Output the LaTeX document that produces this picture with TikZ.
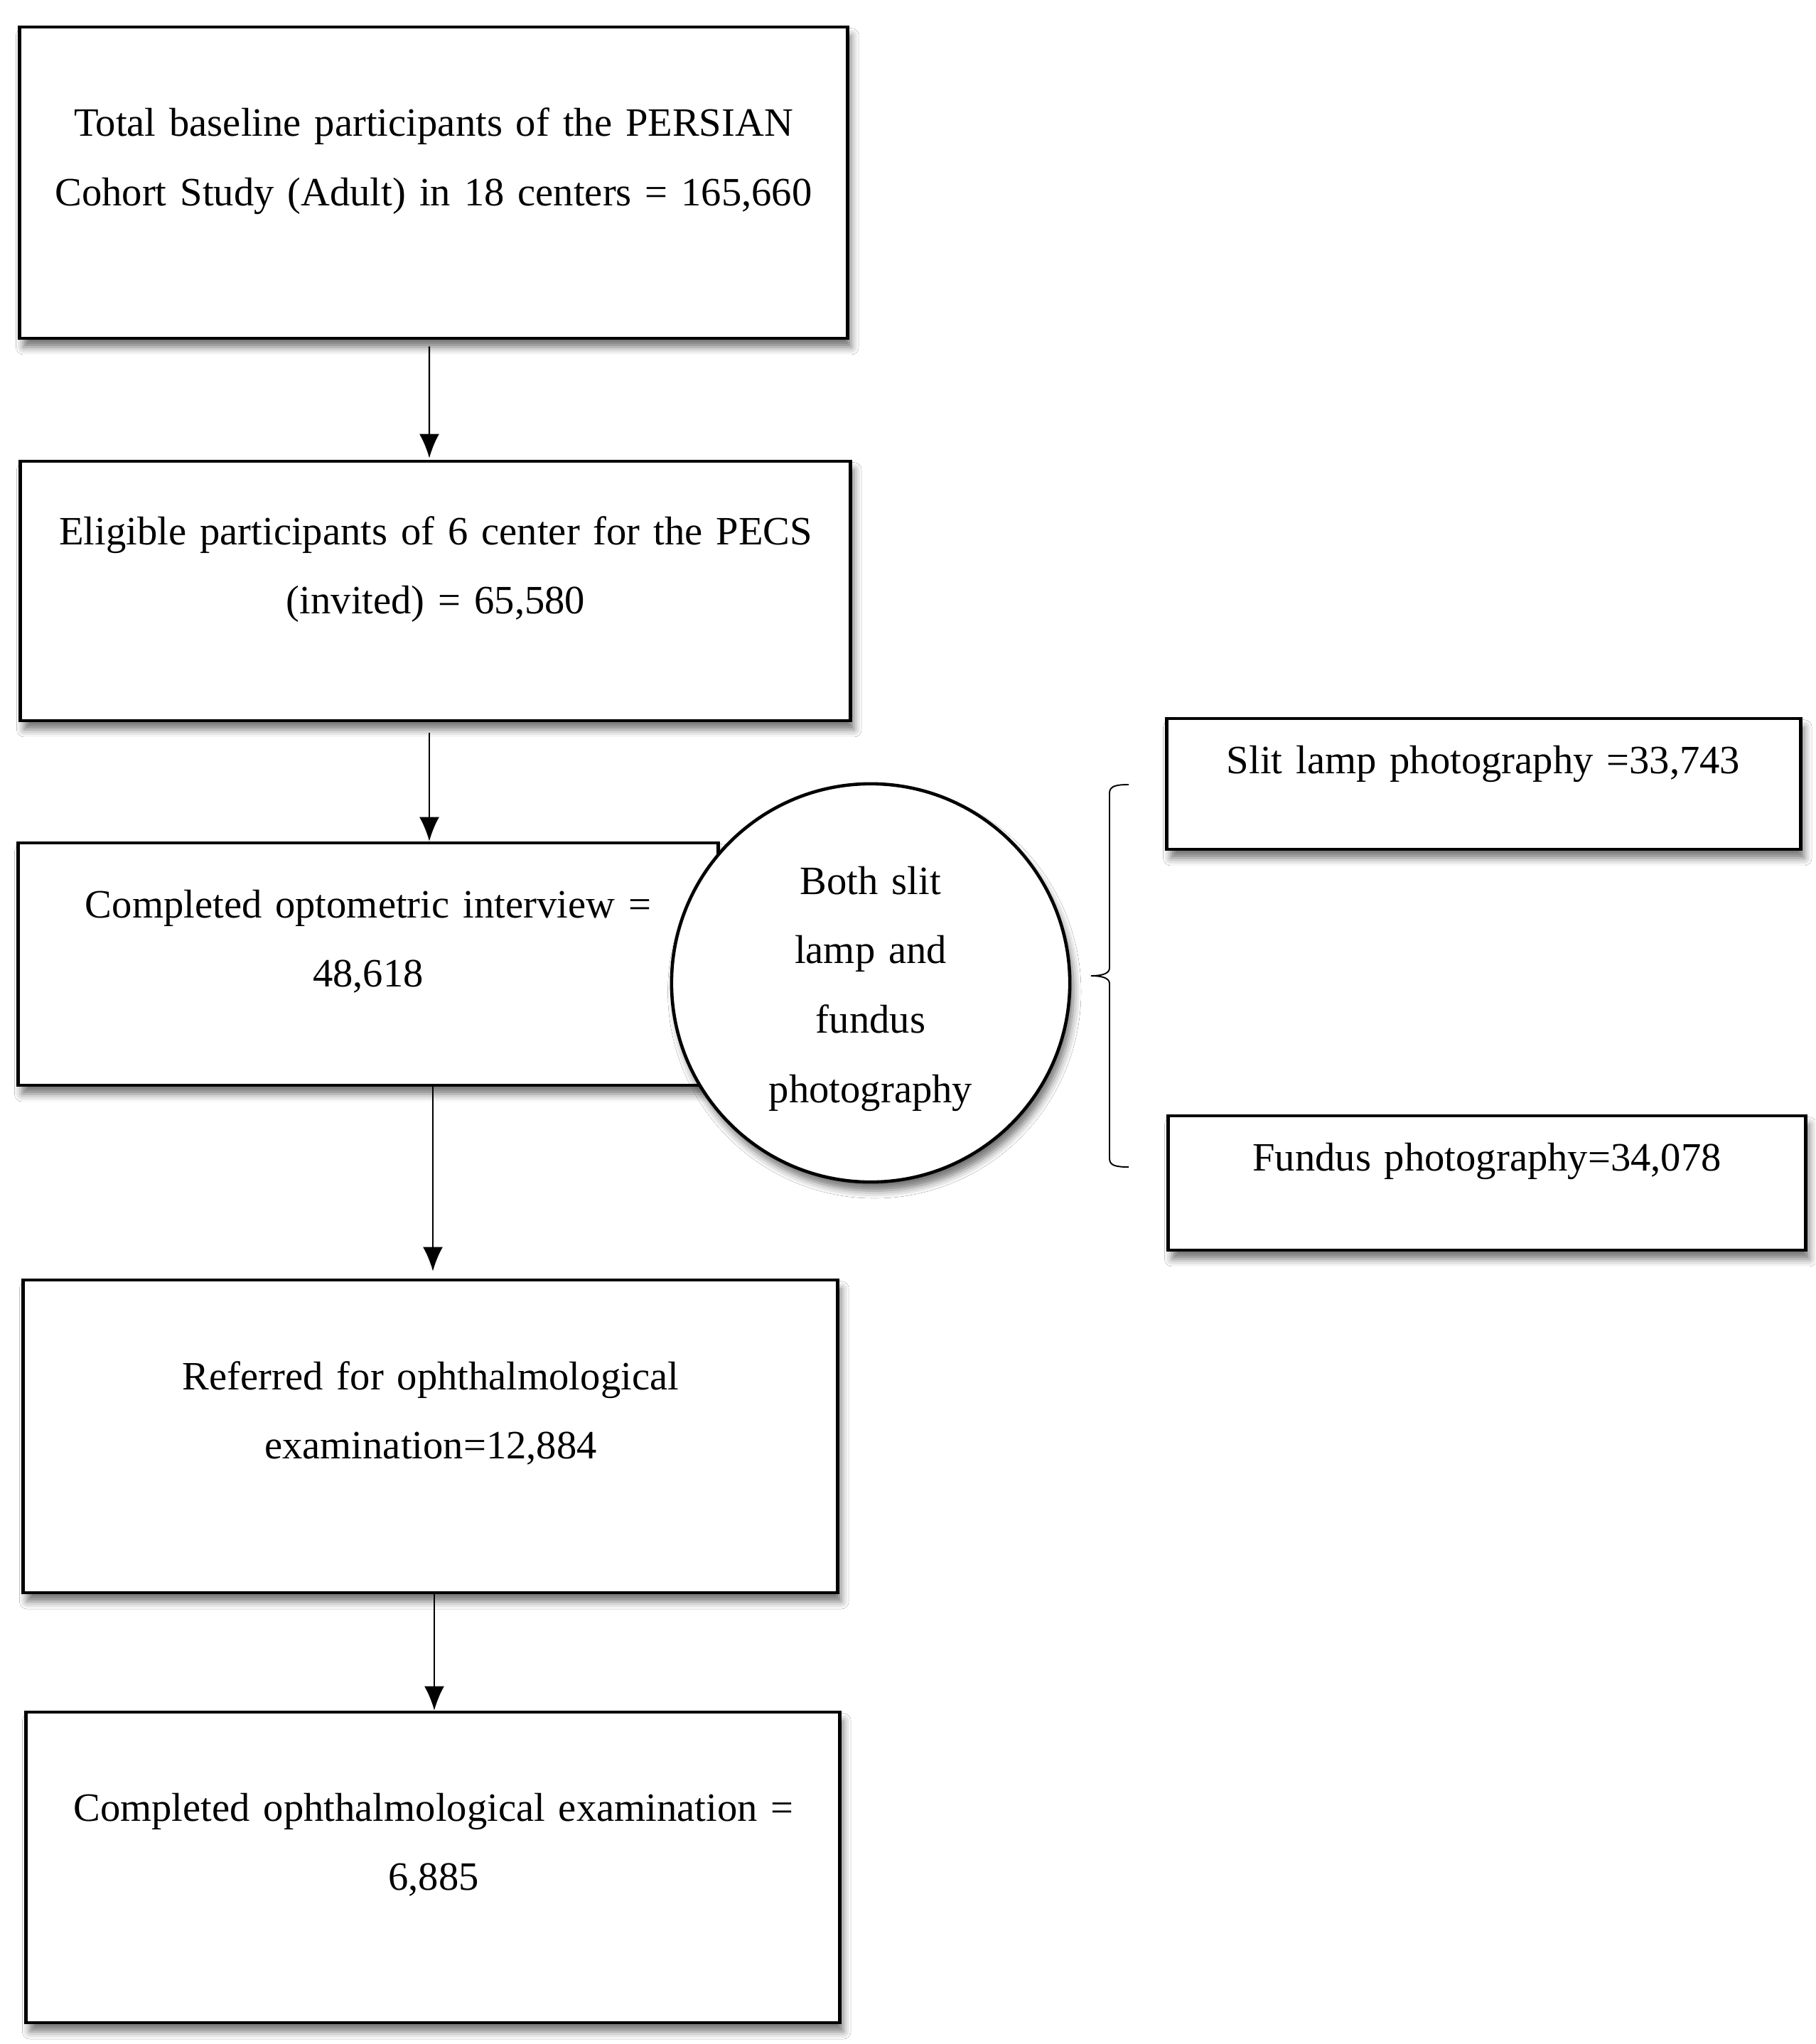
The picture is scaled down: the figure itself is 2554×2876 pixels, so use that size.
\documentclass[tikz,border=0pt]{standalone}
\usepackage{fontspec}
\setmainfont{Liberation Serif}
\usetikzlibrary{arrows.meta,shadows.blur}
\begin{document}
\begin{tikzpicture}[x=0.01cm,y=-0.01cm,
  box/.style={draw=black, line width=1.3pt, fill=white, inner sep=0pt,
    blur shadow={shadow xshift=1.5pt, shadow yshift=-3.5pt, shadow blur radius=3pt, shadow opacity=55}},
  txt/.style={text width=14cm, align=center, anchor=base, inner sep=0pt,
    font=\fontsize{16.1}{27.8}\selectfont},
  arr/.style={-{Latex[length=0.34cm,width=0.28cm]}, line width=0.6pt}]
\useasboundingbox[fill=white] (0,0) rectangle (2554,2876);
% boxes
\node[box, minimum width=11.64cm, minimum height=4.38cm] (b1) at (610,257) {};
\node[box, minimum width=11.67cm, minimum height=3.65cm] (b2) at (612.5,831.5) {};
\node[box, minimum width=9.84cm, minimum height=3.41cm] (b3) at (518,1356.5) {};
\node[box, circle, minimum size=5.6cm] (c) at (1225,1383) {};
\node[box, minimum width=8.91cm, minimum height=1.84cm] (s) at (2087.5,1103) {};
\node[box, minimum width=8.96cm, minimum height=1.89cm] (f) at (2092,1664.5) {};
\node[box, minimum width=11.45cm, minimum height=4.40cm] (b4) at (605.5,2021) {};
\node[box, minimum width=11.44cm, minimum height=4.37cm] (b5) at (609,2627.5) {};
% texts
\node[txt] (t1) at (610,192) {Total baseline participants of the PERSIAN\\Cohort Study (Adult) in 18 centers = 165,660};
\node[txt] (t2) at (613,766) {Eligible participants of 6 center for the PECS\\(invited) = 65,580};
\node[txt] (t3) at (518,1291) {Completed optometric interview =\\48,618};
\node[txt] (t4) at (1225,1258) {Both slit\\lamp and\\fundus\\photography};
\node[txt] (t5) at (2087,1088) {Slit lamp photography =33,743};
\node[txt] (t6) at (2092,1647) {Fundus photography=34,078};
\node[txt] (t7) at (606,1955) {Referred for ophthalmological\\examination=12,884};
\node[txt] (t8) at (610,2562) {Completed ophthalmological examination =\\6,885};
% arrows
\draw[arr, shorten >=0.02cm] ([xshift=-0.06cm]b1.south) ++(0,9) -- ([xshift=-0.085cm]b2.north);
\draw[arr] ([xshift=-0.085cm]b2.south) ++(0,15) -- ([xshift=-0.085cm]b2.south |- b3.north);
\draw[arr, shorten >=0.1cm] ([xshift=0.035cm]b4.north |- b3.south) -- ([xshift=0.035cm]b4.north);
\draw[arr] ([xshift=0.02cm]b5.north |- b4.south) -- ([xshift=0.02cm]b5.north);
% brace
\draw[line width=0.55pt] (1588,1104) .. controls (1570,1104) and (1561,1106) .. (1561,1116)
  -- (1561,1362) .. controls (1561,1370) and (1550,1373) .. (1535,1373)
  .. controls (1550,1373) and (1561,1376) .. (1561,1384)
  -- (1561,1630) .. controls (1561,1640) and (1570,1642) .. (1588,1642);
\end{tikzpicture}
\end{document}
